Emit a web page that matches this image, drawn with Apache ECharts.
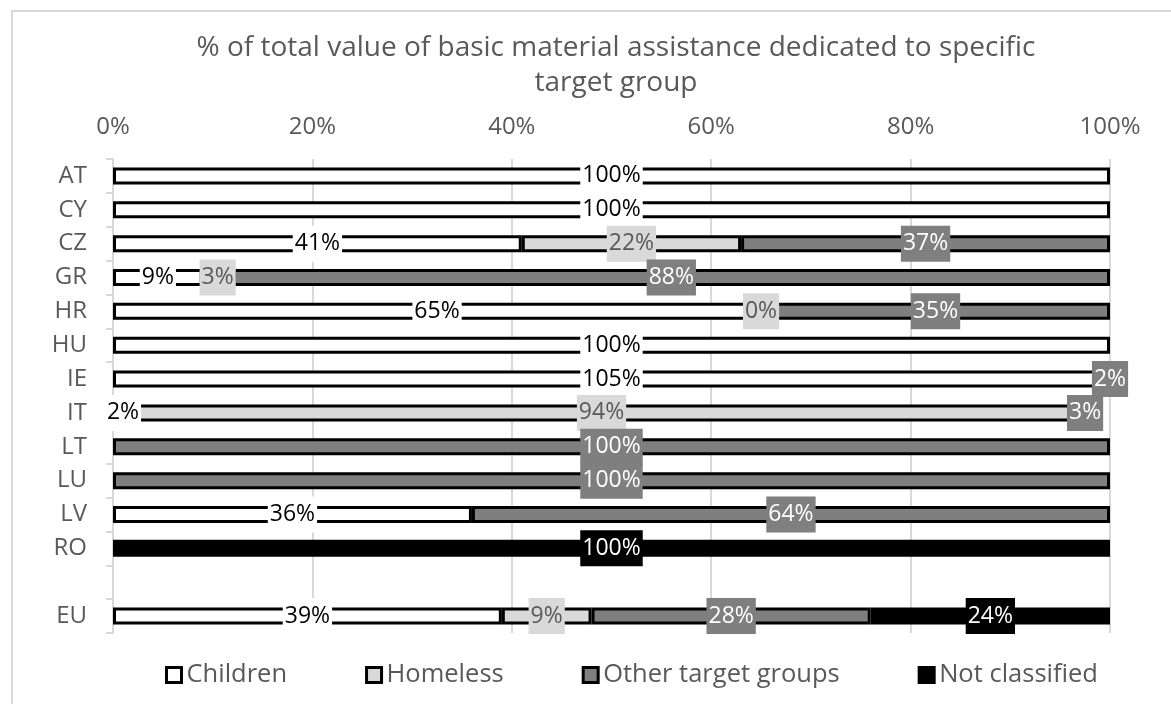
<!DOCTYPE html>
<html><head><meta charset="utf-8">
<script src="https://cdn.jsdelivr.net/npm/echarts@6/dist/echarts.min.js"></script>
<style>
html,body{margin:0;padding:0;background:#fff;overflow:hidden}
#frame{position:absolute;left:11px;top:10px;width:1250px;height:800px;border:2px solid #d9d9d9;box-sizing:border-box}
#chart{position:absolute;left:0;top:0;width:1171px;height:704px}
</style>
</head><body><div id="frame"></div><div id="chart"></div>
<script>
const categories = ['AT','CY','CZ','GR','HR','HU','IE','IT','LT','LU','LV','RO','','EU'];
const seriesNames = ['Children','Homeless','Other target groups','Not classified'];
const children      = [100,100,41,9,65,100,105,2,null,null,36,null,null,39];
const homeless      = [null,null,22,3,0,null,null,94,null,null,null,null,null,9];
const otherGroups   = [null,null,37,88,35,null,2,3,100,100,64,null,null,28];
const notClassified = [null,null,null,null,null,null,null,null,null,null,null,100,null,24];
const xTickLabels = ['0%','20%','40%','60%','80%','100%'];

const FONT = 'Open Sans';
const raw = [children, homeless, otherGroups, notClassified];
const fills = ['#ffffff','#d9d9d9','#7f7f7f','#000000'];
const labelColors = ['#000000','#595959','#ffffff','#ffffff'];

// Bars are clipped at the 100% axis end (as in the original), labels keep raw values
const shown = raw.map(() => []);
categories.forEach((c, i) => {
  let cum = 0;
  raw.forEach((arr, s) => {
    const v = arr[i];
    if (v == null) { shown[s][i] = null; return; }
    const nv = Math.max(0, Math.min(v, 100 - cum));
    shown[s][i] = nv; cum += nv;
  });
});

const series = seriesNames.map((name, s) => ({
  name, type: 'bar', stack: 'total', barWidth: 17,
  data: shown[s].map((v, i) => ({ value: v })),
  itemStyle: { color: fills[s], borderColor: '#000', borderWidth: 3 },
  emphasis: { disabled: true },
  label: {
    show: true, position: 'inside',
    formatter: p => raw[p.seriesIndex][p.dataIndex] == null ? '' : raw[p.seriesIndex][p.dataIndex] + '%',
    color: labelColors[s], backgroundColor: fills[s],
    fontFamily: FONT, fontSize: 23, lineHeight: 26, padding: [5, 2]
  }
}));

const chart = echarts.init(document.getElementById('chart'));
chart.setOption({
  animation: false,
  backgroundColor: 'transparent',
  title: {
    text: '% of total value of basic material assistance dedicated to specific\ntarget group',
    left: 611, textAlign: 'center', top: 26,
    textStyle: { fontFamily: FONT, fontSize: 28, fontWeight: 'normal', color: '#595959', lineHeight: 35 }
  },
  legend: {
    data: seriesNames, left: 160, top: 657, itemGap: 78,
    icon: 'rect', itemWidth: 15, itemHeight: 15,
    itemStyle: { borderColor: '#000', borderWidth: 3 },
    textStyle: { fontFamily: FONT, fontSize: 25.5, color: '#595959' },
    selectedMode: false
  },
  grid: { left: 113, right: 61, top: 159, bottom: 71 },
  xAxis: {
    type: 'value', position: 'top', min: 0, max: 100, interval: 20,
    axisLine: { show: false }, axisTick: { show: false },
    splitLine: { lineStyle: { color: '#d9d9d9', width: 2 } },
    axisLabel: { formatter: v => xTickLabels[Math.round(v / 20)], fontFamily: FONT, fontSize: 24, color: '#595959', margin: 20 }
  },
  yAxis: {
    type: 'category', inverse: true, data: categories,
    axisLine: { lineStyle: { color: '#d9d9d9', width: 2 } },
    axisTick: { show: true, length: 7, lineStyle: { color: '#d9d9d9', width: 2 } },
    axisLabel: { fontFamily: FONT, fontSize: 24, color: '#595959', margin: 26 }
  },
  series
});
</script>
</body></html>
